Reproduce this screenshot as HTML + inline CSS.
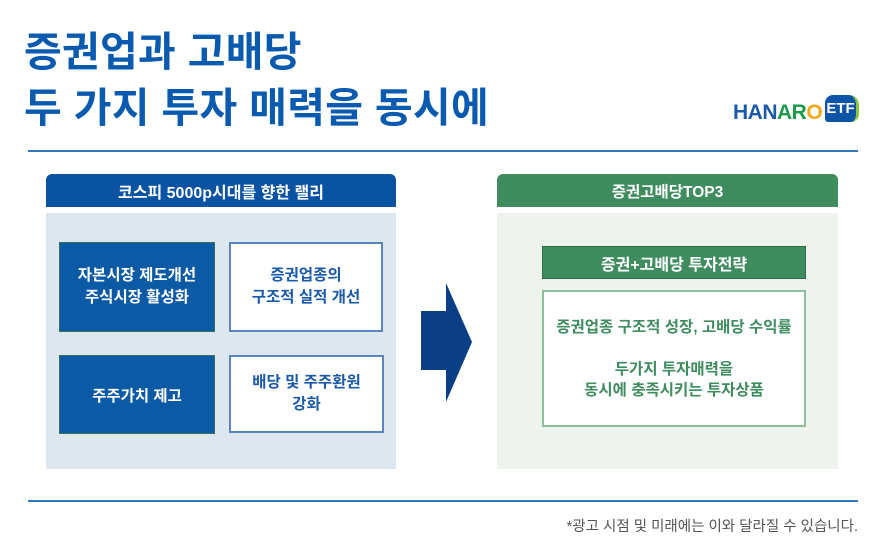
<!DOCTYPE html>
<html><head><meta charset="utf-8"><style>
body{margin:0;width:886px;height:546px;background:#fff;position:relative;overflow:hidden;font-family:"Liberation Sans","Noto Sans CJK KR",sans-serif}
.a{position:absolute;box-sizing:border-box}
.t{left:24px;color:#0a5bb0;font-size:41px;font-weight:bold;letter-spacing:0.3px;white-space:nowrap;line-height:56px}
.c{display:flex;align-items:center;justify-content:center;text-align:center;font-weight:bold}
</style></head><body>
<div class="a t" style="top:24px">증권업과 고배당</div>
<div class="a t" style="top:80px">두 가지 투자 매력을 동시에</div>
<div class="a" style="left:733px;top:101px;font-size:21px;font-weight:bold;letter-spacing:-0.5px"><span style="color:#1b5aa8">HAN</span><span style="color:#1a9a4a">AR</span><span style="color:#f2a71b">O</span></div>
<div class="a c" style="left:825px;top:95px;width:34px;height:27px;background:#0c55a6;border-radius:8px 10px 8px 3px;color:#fff;font-size:15px;border-right:3px solid #8cc63e">ETF</div>
<div class="a" style="left:28px;top:150px;width:830px;height:2px;background:#2f78c0"></div>
<div class="a" style="left:28px;top:500px;width:830px;height:2px;background:#2f78c0"></div>

<div class="a c" style="left:46px;top:174px;width:350px;height:33px;background:#0a53a3;border-radius:6px 6px 0 0;color:#fff;font-size:16px">코스피 5000p시대를 향한 랠리</div>
<div class="a" style="left:46px;top:213px;width:350px;height:256px;background:#dde7ef"></div>
<div class="a c" style="left:59px;top:242px;width:156px;height:90px;background:#0b5aa5;border:1px solid #3c6f5a;color:#fff;font-size:15.5px;line-height:22px">자본시장 제도개선<br>주식시장 활성화</div>
<div class="a c" style="left:229px;top:242px;width:154px;height:90px;background:#fff;border:2px solid #5b86bd;color:#1b5aa8;font-size:15.5px;line-height:22px">증권업종의<br>구조적 실적 개선</div>
<div class="a c" style="left:59px;top:355px;width:156px;height:79px;background:#0b5aa5;border:1px solid #3c6f5a;color:#fff;font-size:15.5px">주주가치 제고</div>
<div class="a c" style="left:229px;top:355px;width:155px;height:78px;background:#fff;border:2px solid #5b86bd;color:#1b5aa8;font-size:15.5px;line-height:22px">배당 및 주주환원<br>강화</div>
<svg class="a" style="left:0;top:0" width="886" height="546"><polygon points="421,311 446,311 446,283 472,342 446,402 446,370 421,370" fill="#0a3f86"/></svg>

<div class="a c" style="left:497px;top:174px;width:341px;height:33px;background:#3f8c5f;border-radius:6px 6px 0 0;color:#fff;font-size:15.5px">증권고배당TOP3</div>
<div class="a" style="left:497px;top:213px;width:341px;height:256px;background:#eff3ee"></div>
<div class="a c" style="left:542px;top:246px;width:264px;height:33px;background:#3f8c5f;border:1px solid #2d6b47;color:#fff;font-size:16px">증권+고배당 투자전략</div>
<div class="a c" style="left:542px;top:290px;width:264px;height:137px;background:#fff;border:2px solid #8cbf9c;color:#3f8c5f;font-size:15.5px;line-height:21px;flex-direction:column">증권업종 구조적 성장, 고배당 수익률<br><br>두가지 투자매력을<br>동시에 충족시키는 투자상품</div>

<div class="a" style="right:28px;top:515px;font-size:14.5px;color:#555">*광고 시점 및 미래에는 이와 달라질 수 있습니다.</div>
</body></html>
